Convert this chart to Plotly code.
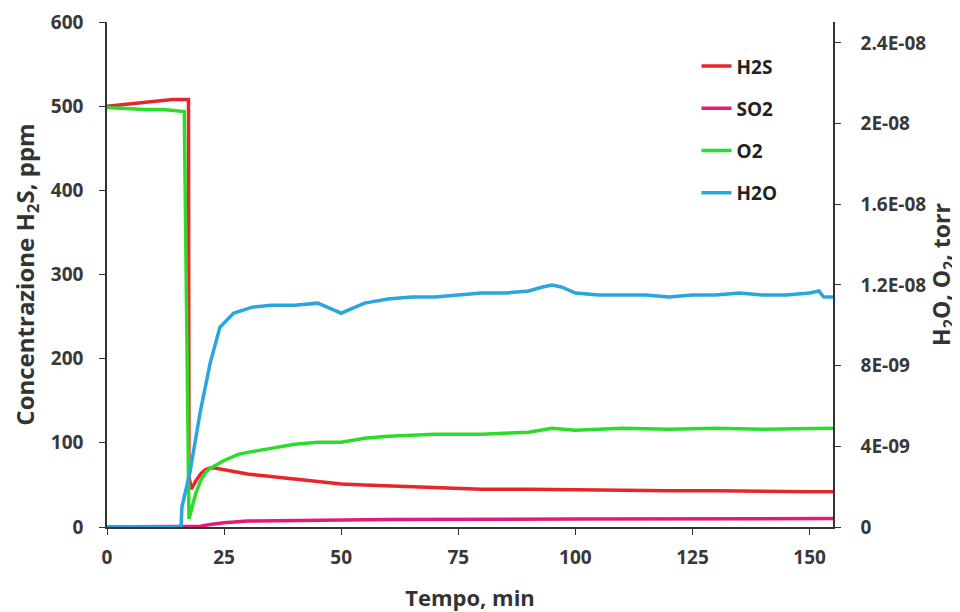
import plotly.graph_objects as go

# ---- data ----
t_h2s = [0, 2, 4, 6, 8, 10, 12, 14, 16, 17.4, 17.5, 18, 19, 20, 21, 22, 23, 25, 27, 30, 35, 40, 45, 50, 55, 60, 70, 80, 90, 100, 110, 120, 130, 140, 150, 155]
h2s_ppm = [500, 501, 503, 504, 505, 506, 507, 508, 508, 508, 60, 45, 55, 63, 68, 70, 70, 68, 66, 63, 60, 57, 55, 51, 50, 49, 47, 45, 45, 44, 44, 43, 43, 42, 42, 42]

t_so2 = [0, 10, 18, 20, 22, 25, 30, 40, 60, 100, 155]
so2_ppm = [0, 0, 0, 1, 3, 5, 7, 8, 9, 9.5, 10]

t_o2 = [0, 4, 8, 12, 16, 16.5, 17.5, 18, 19, 20, 21, 22, 25, 28, 30, 35, 40, 45, 50, 55, 60, 70, 75, 80, 90, 95, 100, 110, 120, 130, 140, 150, 155]
o2_torr = [2.08e-8, 2.075e-8, 2.07e-8, 2.07e-8, 2.06e-8, 2.06e-8, 0.04e-8, 0.08e-8, 0.17e-8, 0.23e-8, 0.27e-8, 0.29e-8, 0.33e-8, 0.36e-8, 0.37e-8, 0.39e-8, 0.41e-8, 0.42e-8, 0.42e-8, 0.44e-8, 0.45e-8, 0.46e-8, 0.46e-8, 0.46e-8, 0.47e-8, 0.49e-8, 0.48e-8, 0.49e-8, 0.485e-8, 0.49e-8, 0.485e-8, 0.49e-8, 0.49e-8]

t_h2o = [0, 10, 15.8, 16.0, 17.7, 19.9, 22, 24.1, 27, 31, 35, 40, 45, 48, 50, 52, 55, 60, 65, 70, 75, 80, 85, 90, 93, 95, 97, 100, 105, 110, 115, 120, 125, 130, 135, 140, 145, 150, 152, 153, 155]
h2o_torr = [0, 0, 0, 0.10e-8, 0.27e-8, 0.57e-8, 0.81e-8, 0.99e-8, 1.06e-8, 1.09e-8, 1.10e-8, 1.10e-8, 1.11e-8, 1.08e-8, 1.06e-8, 1.08e-8, 1.11e-8, 1.13e-8, 1.14e-8, 1.14e-8, 1.15e-8, 1.16e-8, 1.16e-8, 1.17e-8, 1.19e-8, 1.20e-8, 1.19e-8, 1.16e-8, 1.15e-8, 1.15e-8, 1.15e-8, 1.14e-8, 1.15e-8, 1.15e-8, 1.16e-8, 1.15e-8, 1.15e-8, 1.16e-8, 1.17e-8, 1.14e-8, 1.14e-8]

x_ticks = [0, 25, 50, 75, 100, 125, 150]
y_ticks = [0, 100, 200, 300, 400, 500, 600]
y2_ticks = [0, 4e-9, 8e-9, 1.2e-8, 1.6e-8, 2e-8, 2.4e-8]
y2_labels = ["0", "4E-09", "8E-09", "1.2E-08", "1.6E-08", "2E-08", "2.4E-08"]

# ---- figure ----
fig = go.Figure()
fig.add_trace(go.Scatter(x=t_h2s, y=h2s_ppm, name="H2S", mode="lines",
                         line=dict(color="#e8262a", width=3.5), legendgroup="a"))
fig.add_trace(go.Scatter(x=t_so2, y=so2_ppm, name="SO2", mode="lines",
                         line=dict(color="#e6197a", width=3.5), legendgroup="b"))
fig.add_trace(go.Scatter(x=t_o2, y=o2_torr, name="O2", mode="lines", yaxis="y2",
                         line=dict(color="#2bdc2b", width=3.5), legendgroup="c"))
fig.add_trace(go.Scatter(x=t_h2o, y=h2o_torr, name="H2O", mode="lines", yaxis="y2",
                         line=dict(color="#2aa6df", width=3.5), legendgroup="d"))

font_family = "Open Sans, Liberation Sans, sans-serif"
axis_col = "#333333"
tick_font = dict(size=19, weight="bold", color="#383838")
title_font_x = dict(size=22, weight="bold", color="#333333")
title_font_y = dict(size=24, weight="bold", color="#333333")
title_font_y2 = dict(size=23, weight="bold", color="#333333")

fig.update_layout(
    width=952, height=604,
    margin=dict(l=99, r=127, t=14, b=85),
    paper_bgcolor="white", plot_bgcolor="white",
    font=dict(family=font_family, size=19, color="#333333"),
    showlegend=True,
    legend=dict(x=0.812, y=0.95, xanchor="left", yanchor="top",
                tracegroupgap=14.5, itemwidth=30,
                font=dict(size=19, color="#222222", family=font_family, weight="bold"),
                bgcolor="rgba(255,255,255,0)"),
    xaxis=dict(range=[0, 155], tickvals=x_ticks, showgrid=False, zeroline=False,
               showline=True, linecolor=axis_col, linewidth=1.5, automargin=False,
               ticks="outside", ticklen=6, tickcolor=axis_col, ticklabelstandoff=6,
               tickfont=tick_font,
               title=dict(text="Tempo, min", font=title_font_x, standoff=22)),
    yaxis=dict(range=[0, 600], tickvals=y_ticks, showgrid=False, zeroline=False,
               showline=True, linecolor=axis_col, linewidth=1.5, automargin=False,
               ticks="outside", ticklen=6, tickcolor=axis_col, ticklabelstandoff=12,
               tickfont=tick_font,
               title=dict(text="Concentrazione H<sub>2</sub>S, ppm", font=title_font_y, standoff=22)),
    yaxis2=dict(range=[0, 2.504e-8], overlaying="y", side="right", anchor="x",
                tickvals=y2_ticks, ticktext=y2_labels, showgrid=False, zeroline=False,
                showline=True, linecolor=axis_col, linewidth=1.5, automargin=False,
                ticks="outside", ticklen=6, tickcolor=axis_col, ticklabelstandoff=16,
                tickfont=tick_font,
                title=dict(text="H<sub>2</sub>O, O<sub>2</sub>, torr", font=title_font_y2, standoff=6)),
)

fig.write_html("out.html")
